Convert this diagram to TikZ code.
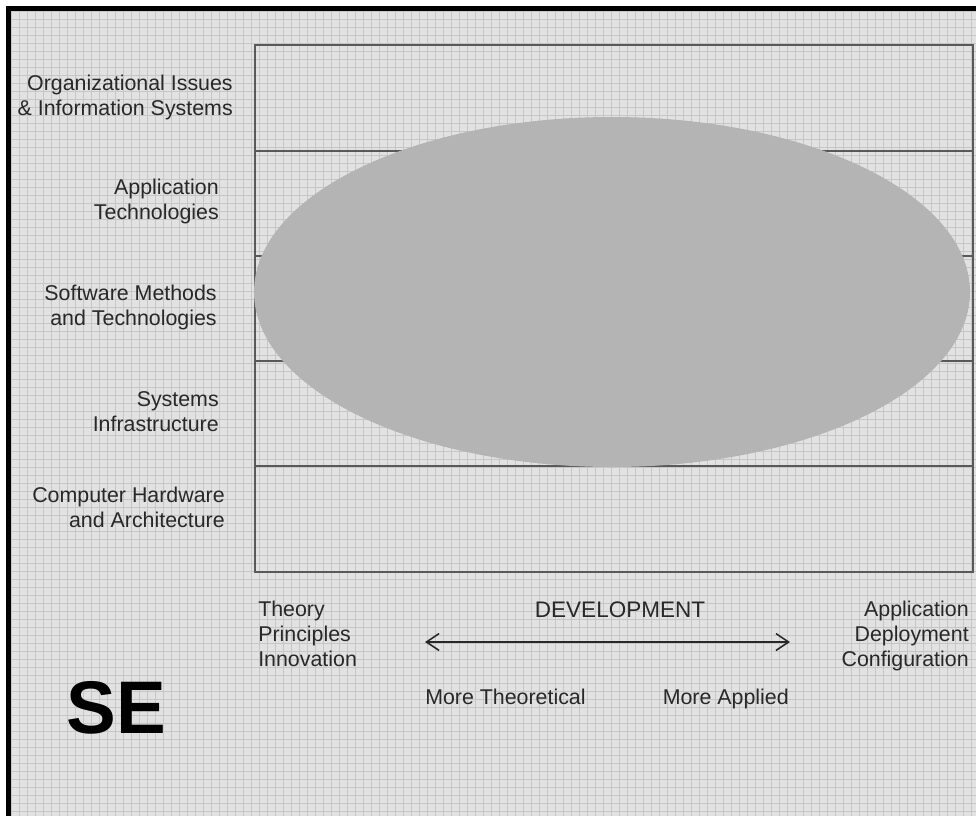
\documentclass[tikz,border=0pt]{standalone}
\usepackage{fontspec}
\setmainfont{Liberation Sans}
\usetikzlibrary{arrows.meta}
\definecolor{paper}{RGB}{226,226,226}
\definecolor{rule}{RGB}{198,198,198}
\definecolor{hub}{RGB}{180,180,180}
\definecolor{ink}{RGB}{40,40,40}
\tikzset{
  area/.style={font=\fontsize{15.2}{17.8}\selectfont, text=ink, align=right, anchor=east, inner sep=0pt},
  ends/.style={font=\fontsize{15.2}{17.8}\selectfont, text=ink, inner sep=0pt},
  band/.style={draw=black!65, line width=0.9pt},
}
\begin{document}
\begin{tikzpicture}[x=0.025cm, y=-0.025cm]
\useasboundingbox (0,0) rectangle (976,816);
\fill[paper] (11,11) rectangle (976,816);
\foreach \i in {0,...,120} \draw[rule, line width=0.4pt] ({11+8*\i},11) -- ({11+8*\i},816);
\foreach \i in {0,...,100} \draw[rule, line width=0.4pt] (11,{11+8*\i}) -- (976,{11+8*\i});
\fill[black] (6,6) rectangle (976,11);
\fill[black] (6,6) rectangle (11,816);
\draw[band] (255,45) rectangle (973,572);
\foreach \y in {151,256,361,466} \draw[band] (255,\y) -- (973,\y);
\fill[hub] (612,292) ellipse [x radius=358, y radius=175];
\node[area] (org) at (233,97) {Organizational Issues\\\& Information Systems};
\node[area] (app) at (219,201) {Application\\Technologies};
\node[area] (soft) at (217,307) {Software Methods\\and Technologies};
\node[area] (sys) at (219,412) {Systems\\Infrastructure};
\node[area] (hw) at (225,507) {Computer Hardware\\and Architecture};
\node[ends, align=left, anchor=west] (theory) at (258,634) {Theory\\Principles\\Innovation};
\node[ends, align=right, anchor=east] (deploy) at (969,636) {Application\\Deployment\\Configuration};
\node[ends, font=\fontsize{16}{19}\selectfont] (dev) at (620,610) {DEVELOPMENT};
\coordinate (left) at (425,642);
\coordinate (right) at (790,642);
\draw[line width=1.1pt, draw=ink, {Straight Barb[length=9pt,width=12pt]}-{Straight Barb[length=9pt,width=12pt]}] (left) -- (right);
\node[ends, anchor=base west] (theo) at (425,704) {More Theoretical};
\node[ends, anchor=base east] (applied) at (789,704) {More Applied};
\node[font=\bfseries\fontsize{53}{60}\selectfont, inner sep=0pt] (se) at (116,708) {SE};
\end{tikzpicture}
\end{document}
